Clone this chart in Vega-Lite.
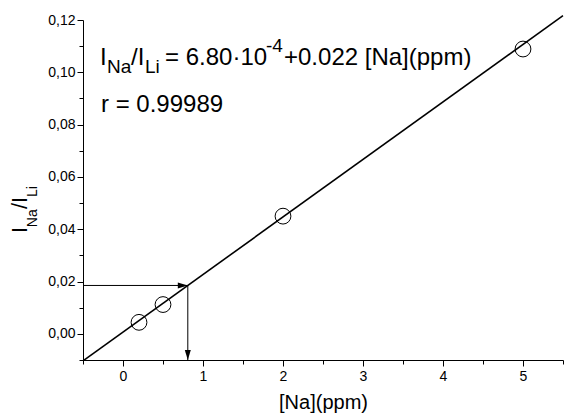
{
  "$schema": "https://vega.github.io/schema/vega-lite/v6.json",
  "width": 480,
  "height": 340,
  "autosize": {"type": "none"},
  "padding": {"left": 83, "top": 20, "right": 1, "bottom": 58},
  "background": "white",
  "config": {"view": {"stroke": null}, "axis": {"grid": false}},
  "datasets": {
    "points": [
      {"x": 0.2, "y": 0.0044},
      {"x": 0.5, "y": 0.0112},
      {"x": 2, "y": 0.045},
      {"x": 5, "y": 0.1089}
    ],
    "fit": [
      {"x": -0.5, "y": -0.01032},
      {"x": 5.5, "y": 0.12168}
    ],
    "arrows": [
      {"x": -0.5, "y": 0.0185, "x2": 0.81, "y2": 0.0185},
      {"x": 0.81, "y": 0.0185, "x2": 0.81, "y2": -0.01}
    ],
    "headRight": [{"x": 0.81, "y": 0.0185}],
    "headDown": [{"x": 0.81, "y": -0.01}],
    "eqMain": [
      {"t": "I", "x": -0.2875, "y": 0.1028},
      {"t": "/I", "x": 0.1, "y": 0.1028},
      {"t": "= 6.80·10", "x": 0.525, "y": 0.1028},
      {"t": "+0.022 [Na](ppm)", "x": 2.0125, "y": 0.1028},
      {"t": "r = 0.99989", "x": -0.275, "y": 0.0848}
    ],
    "eqSub": [
      {"t": "Na", "x": -0.2, "y": 0.0997},
      {"t": "Li", "x": 0.275, "y": 0.0997},
      {"t": "-4", "x": 1.7875, "y": 0.1078}
    ],
    "ytMain": [
      {"t": "I", "x": -1.2, "y": 0.03855},
      {"t": "/I", "x": -1.2, "y": 0.0477}
    ],
    "ytSub": [
      {"t": "Na", "x": -1.075, "y": 0.0408},
      {"t": "Li", "x": -1.075, "y": 0.0523}
    ]
  },
  "encoding": {
    "x": {
      "field": "x", "type": "quantitative",
      "scale": {"domain": [-0.5, 5.5], "nice": false, "zero": false},
      "axis": {
        "values": [-0.5, 0, 0.5, 1, 1.5, 2, 2.5, 3, 3.5, 4, 4.5, 5, 5.5],
        "labelExpr": "datum.value % 1 === 0 ? format(datum.value, 'd') : ''",
        "tickSize": {"condition": {"test": "datum.value % 1 === 0", "value": 6}, "value": 4},
        "labelOverlap": false,
        "labelFlush": false,
        "labelFont": "Liberation Sans",
        "labelFontSize": 14,
        "labelColor": "black",
        "labelPadding": 3,
        "domainColor": "black",
        "tickColor": "black",
        "title": "[Na](ppm)",
        "titleFont": "Liberation Sans",
        "titleFontSize": 20,
        "titleFontWeight": "normal",
        "titleColor": "black",
        "titlePadding": 9
      }
    },
    "y": {
      "field": "y", "type": "quantitative",
      "scale": {"domain": [-0.01, 0.12], "nice": false, "zero": false},
      "axis": {
        "values": [-0.01, 0, 0.01, 0.02, 0.03, 0.04, 0.05, 0.06, 0.07, 0.08, 0.09, 0.1, 0.11, 0.12],
        "labelExpr": "round(datum.value * 100) % 2 === 0 ? replace(format(datum.value, '.2f'), '.', ',') : ''",
        "tickSize": {"condition": {"test": "round(datum.value * 100) % 2 === 0", "value": 6}, "value": 4},
        "labelOverlap": false,
        "labelFlush": false,
        "labelFont": "Liberation Sans",
        "labelFontSize": 14,
        "labelColor": "black",
        "labelPadding": 2,
        "domainColor": "black",
        "tickColor": "black",
        "title": null
      }
    }
  },
  "layer": [
    {
      "data": {"name": "fit"},
      "mark": {"type": "line", "color": "black", "strokeWidth": 1.6}
    },
    {
      "data": {"name": "arrows"},
      "mark": {"type": "rule", "color": "black", "strokeWidth": 1},
      "encoding": {
        "x2": {"field": "x2"},
        "y2": {"field": "y2"}
      }
    },
    {
      "data": {"name": "headRight"},
      "mark": {"type": "point", "shape": "M 1 0 L -1 -0.6 L -1 0.6 Z", "size": 100, "filled": true, "color": "black", "opacity": 1, "xOffset": -5}
    },
    {
      "data": {"name": "headDown"},
      "mark": {"type": "point", "shape": "M 0 1 L -0.6 -1 L 0.6 -1 Z", "size": 100, "filled": true, "color": "black", "opacity": 1, "yOffset": -5}
    },
    {
      "data": {"name": "points"},
      "mark": {"type": "point", "shape": "circle", "size": 250, "filled": false, "color": "black", "strokeWidth": 1, "opacity": 1}
    },
    {
      "data": {"name": "eqMain"},
      "mark": {"type": "text", "align": "left", "baseline": "alphabetic", "font": "Liberation Sans", "fontSize": 24, "color": "black"},
      "encoding": {"text": {"field": "t"}}
    },
    {
      "data": {"name": "eqSub"},
      "mark": {"type": "text", "align": "left", "baseline": "alphabetic", "font": "Liberation Sans", "fontSize": 19, "color": "black"},
      "encoding": {"text": {"field": "t"}}
    },
    {
      "data": {"name": "ytMain"},
      "mark": {"type": "text", "align": "left", "baseline": "alphabetic", "angle": 270, "font": "Liberation Sans", "fontSize": 22, "color": "black"},
      "encoding": {"text": {"field": "t"}}
    },
    {
      "data": {"name": "ytSub"},
      "mark": {"type": "text", "align": "left", "baseline": "alphabetic", "angle": 270, "font": "Liberation Sans", "fontSize": 14, "color": "black"},
      "encoding": {"text": {"field": "t"}}
    }
  ]
}
